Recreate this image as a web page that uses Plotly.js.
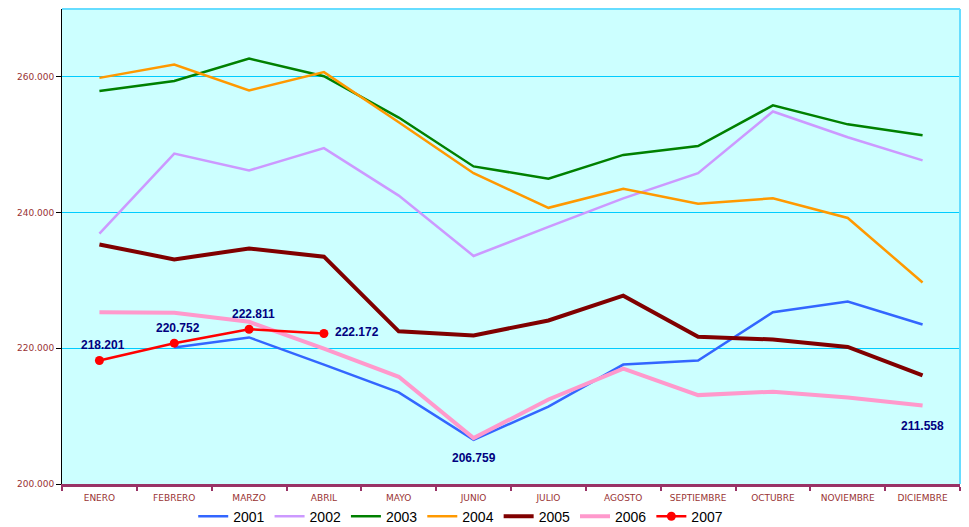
<!DOCTYPE html>
<html>
<head>
<meta charset="utf-8">
<script src="https://cdn.plot.ly/plotly-3.0.1.min.js"></script>
<style>html,body{margin:0;padding:0;background:#fff;}#chart{width:969px;height:527px;}</style>
</head>
<body>
<div id="chart"></div>
<script>
var months = ['ENERO','FEBRERO','MARZO','ABRIL','MAYO','JUNIO','JULIO','AGOSTO','SEPTIEMBRE','OCTUBRE','NOVIEMBRE','DICIEMBRE'];
var y2001 = [null, 220.1, 221.6, 217.6, 213.5, 206.5, 211.4, 217.6, 218.2, 225.3, 226.9, 223.5];
var y2002 = [236.9, 248.7, 246.2, 249.5, 242.5, 233.6, 237.9, 242.1, 245.8, 254.9, 251.1, 247.7];
var y2003 = [257.9, 259.4, 262.7, 260.1, 254.0, 246.8, 245.0, 248.5, 249.8, 255.8, 253.0, 251.4];
var y2004 = [259.85, 261.8, 258.0, 260.7, 253.3, 245.8, 240.7, 243.5, 241.3, 242.1, 239.2, 229.7];
var y2005 = [235.3, 233.1, 234.7, 233.5, 222.5, 221.9, 224.1, 227.75, 221.7, 221.3, 220.2, 216.0];
var y2006 = [225.3, 225.25, 223.9, 219.95, 215.8, 206.759, 212.45, 217.0, 213.1, 213.6, 212.75, 211.558];
var y2007 = [218.201, 220.752, 222.811, 222.172];
var labels2006 = [5, 11];
var yTicks = [200, 220, 240, 260];

var series = [
  {name:'2001', y:y2001, color:'#3366FF', w:2.5},
  {name:'2002', y:y2002, color:'#CC99FF', w:2.5},
  {name:'2003', y:y2003, color:'#008000', w:2.5},
  {name:'2004', y:y2004, color:'#FF9900', w:2.5},
  {name:'2005', y:y2005, color:'#800000', w:4},
  {name:'2006', y:y2006, color:'#FF99CC', w:4}
];
var traces = series.map(function(s){
  return {type:'scatter', mode:'lines', name:s.name, x:months, y:s.y,
    line:{color:s.color, width:s.w}, connectgaps:false};
});
traces.push({type:'scatter', mode:'lines+markers', name:'2007', x:months.slice(0, y2007.length), y:y2007,
  line:{color:'#FF0000', width:2.5}, marker:{color:'#FF0000', size:9}});

var fmt = function(v){ return v.toFixed(3); };
var annotations = [];
y2007.forEach(function(v, i){
  var last = (i === y2007.length - 1);
  annotations.push({x:months[i], y:v, xref:'x', yref:'y', text:fmt(v), showarrow:false,
    xanchor: last ? 'left' : 'center', yanchor:'middle',
    xshift: last ? 9 : 4, yshift: last ? 2 : 15,
    font:{family:'Liberation Sans, Arial', size:12, color:'#000080', weight:'bold'}});
});
labels2006.forEach(function(i){
  annotations.push({x:months[i], y:y2006[i], xref:'x', yref:'y', text:fmt(y2006[i]), showarrow:false,
    xanchor:'center', yanchor:'middle', xshift:0, yshift:-20,
    font:{family:'Liberation Sans, Arial', size:12, color:'#000080', weight:'bold'}});
});

var layout = {
  width:969, height:527,
  margin:{l:62, r:9, t:9, b:43, autoexpand:false},
  paper_bgcolor:'#FFFFFF',
  plot_bgcolor:'#CCFFFF',
  showlegend:true,
  legend:{orientation:'h', x:0.444, xanchor:'center', y:-0.035, yanchor:'top',
    font:{family:'Liberation Sans, Arial', size:14, color:'#000000'}, itemwidth:30,
    bgcolor:'rgba(0,0,0,0)', tracegroupgap:0},
  xaxis:{type:'category', range:[-0.5, 11.5], tickson:'boundaries', ticks:'outside', ticklen:4, tickwidth:2,
    tickcolor:'#993366', showline:true, linecolor:'#993366', linewidth:3, showgrid:false, ticklabelstandoff:3,
    tickfont:{family:'DejaVu Sans, Verdana', size:9, color:'#993333'}, fixedrange:true},
  yaxis:{range:[200, 270], tickvals:yTicks, tickformat:'.3f', ticks:'outside', ticklen:5, tickcolor:'#000000',
    showline:true, linecolor:'#000000', linewidth:1, showgrid:true, gridcolor:'#00CCFF', gridwidth:1,
    zeroline:false, tickfont:{family:'DejaVu Sans, Verdana', size:9, color:'#993333'}, fixedrange:true},
  shapes:[
    {type:'line', xref:'paper', yref:'paper', x0:0, x1:1, y0:1, y1:1, line:{color:'#66DDFF', width:2}, layer:'above'},
    {type:'line', xref:'paper', yref:'paper', x0:1, x1:1, y0:0, y1:1, line:{color:'#66DDFF', width:2}, layer:'above'}
  ],
  annotations:annotations
};
Plotly.newPlot('chart', traces, layout, {displayModeBar:false, staticPlot:true});
</script>
</body>
</html>
